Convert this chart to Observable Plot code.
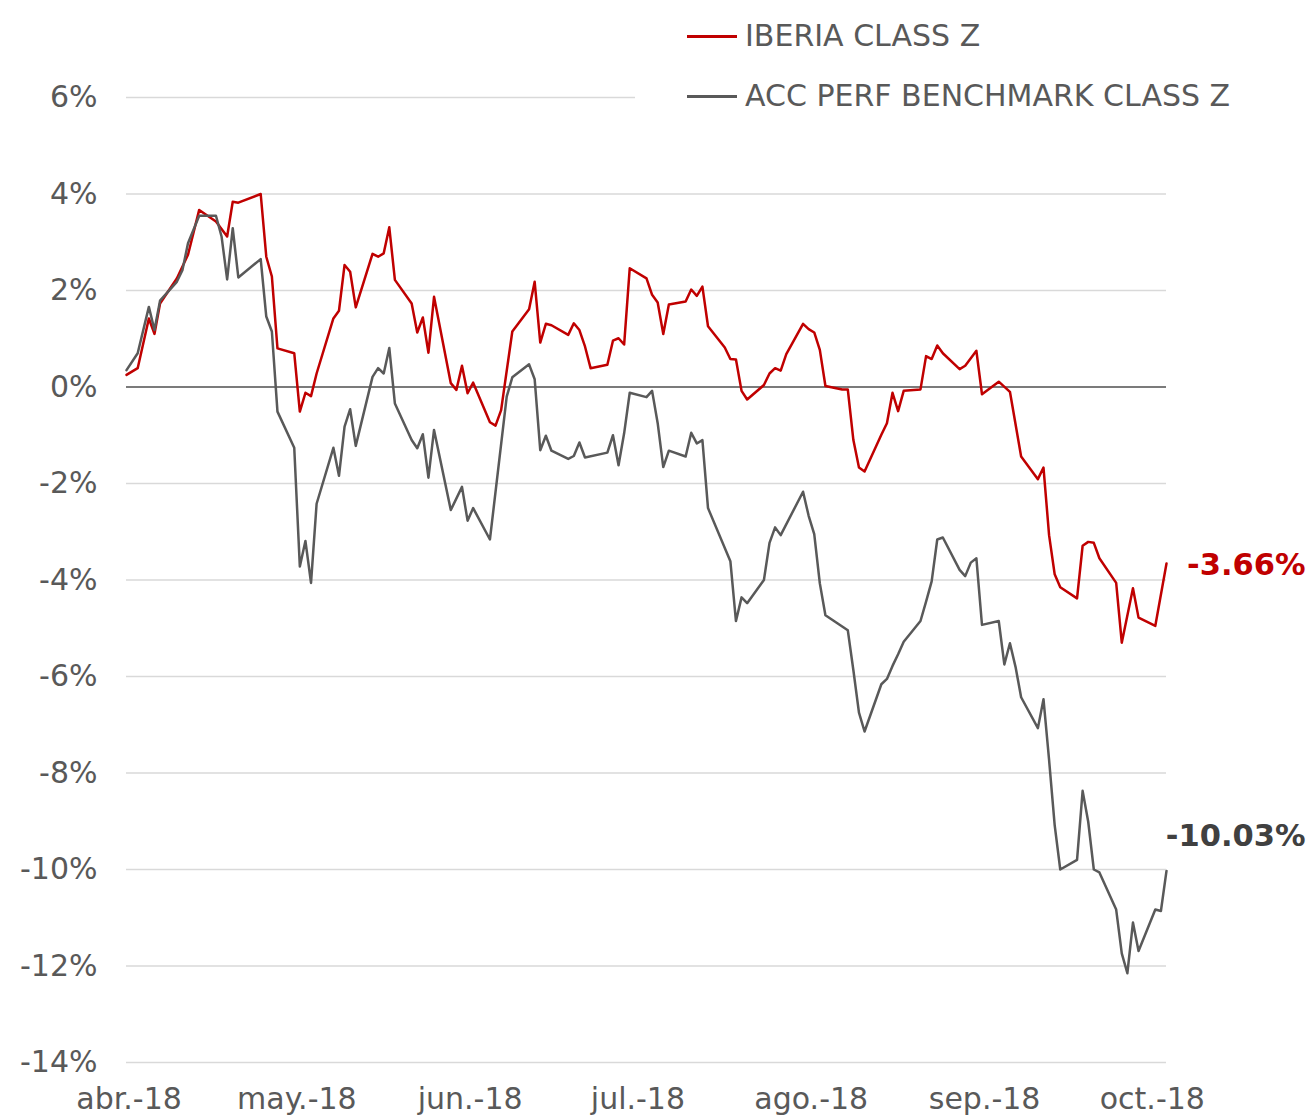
<!DOCTYPE html>
<html>
<head>
<meta charset="utf-8">
<script src="https://cdn.jsdelivr.net/npm/d3@7"></script>
<script src="https://cdn.jsdelivr.net/npm/@observablehq/plot@0.6"></script>
<style>
  body { margin: 0; background: white; }
  #wrap { position: relative; width: 1307px; height: 1116px; overflow: hidden; font-family: 'DejaVu Sans', Verdana, sans-serif; }
  #legend { position: absolute; left: 635px; top: 0; width: 672px; height: 122px; background: white; }
  .lg-line { position: absolute; left: 52px; width: 50px; height: 2.5px; }
  .lg-text { position: absolute; left: 110px; font-size: 30px; line-height: 36px; color: #595959; white-space: nowrap; }
</style>
</head>
<body>
<div id="wrap">
  <div id="chart"></div>
  <div id="legend"></div>
</div>
<script>
const seriesNames = ["IBERIA CLASS Z", "ACC PERF BENCHMARK CLASS Z"];
const seriesColors = ["#C00000", "#595959"];
const labelColors = ["#C00000", "#404040"];

const ibDates = ["2018-03-31","2018-04-02","2018-04-04","2018-04-05","2018-04-06","2018-04-09","2018-04-11","2018-04-13","2018-04-16","2018-04-18","2018-04-19","2018-04-20","2018-04-24","2018-04-25","2018-04-26","2018-04-27","2018-04-30",
"2018-05-01","2018-05-02","2018-05-03","2018-05-04","2018-05-07","2018-05-08","2018-05-09","2018-05-10","2018-05-11","2018-05-14","2018-05-15","2018-05-16","2018-05-17","2018-05-18","2018-05-21","2018-05-22","2018-05-23","2018-05-24","2018-05-25","2018-05-28","2018-05-29","2018-05-30","2018-05-31",
"2018-06-01","2018-06-04","2018-06-05","2018-06-06","2018-06-08","2018-06-11","2018-06-12","2018-06-13","2018-06-14","2018-06-15","2018-06-18","2018-06-19","2018-06-20","2018-06-21","2018-06-22","2018-06-25","2018-06-26","2018-06-27","2018-06-28","2018-06-29",
"2018-07-02","2018-07-03","2018-07-04","2018-07-05","2018-07-06","2018-07-09","2018-07-10","2018-07-11","2018-07-12","2018-07-13","2018-07-16","2018-07-17","2018-07-18","2018-07-19","2018-07-20","2018-07-23","2018-07-24","2018-07-25","2018-07-26","2018-07-27","2018-07-30","2018-07-31",
"2018-08-01","2018-08-02","2018-08-03","2018-08-06","2018-08-07","2018-08-08","2018-08-09","2018-08-10","2018-08-13","2018-08-14","2018-08-15","2018-08-16","2018-08-17","2018-08-20","2018-08-21","2018-08-22","2018-08-23","2018-08-24","2018-08-27","2018-08-28","2018-08-30","2018-08-31",
"2018-09-03","2018-09-05","2018-09-07","2018-09-10","2018-09-11","2018-09-12","2018-09-13","2018-09-14","2018-09-17","2018-09-18","2018-09-19","2018-09-20","2018-09-21","2018-09-24","2018-09-25","2018-09-27","2018-09-28","2018-10-01","2018-10-03"];
const ibValues = [0.25,0.39,1.42,1.10,1.73,2.25,2.74,3.67,3.43,3.12,3.84,3.82,4.00,2.70,2.29,0.80,0.70,
-0.51,-0.12,-0.19,0.28,1.42,1.58,2.53,2.39,1.65,2.76,2.70,2.77,3.31,2.22,1.73,1.13,1.44,0.71,1.87,0.08,-0.06,0.44,-0.13,
0.09,-0.73,-0.80,-0.48,1.15,1.61,2.18,0.92,1.31,1.28,1.08,1.32,1.18,0.84,0.39,0.46,0.96,1.01,0.88,2.46,
2.25,1.91,1.75,1.10,1.71,1.77,2.02,1.89,2.08,1.26,0.82,0.58,0.57,-0.08,-0.26,0.04,0.28,0.39,0.34,0.68,1.31,1.20,
1.13,0.77,0.02,-0.05,-0.05,-1.10,-1.67,-1.75,-0.99,-0.75,-0.12,-0.50,-0.08,-0.05,0.64,0.58,0.86,0.70,0.37,0.44,0.75,-0.15,
0.11,-0.10,-1.44,-1.91,-1.67,-3.07,-3.88,-4.15,-4.38,-3.29,-3.21,-3.23,-3.55,-4.06,-5.30,-4.17,-4.78,-4.95,-3.66];

const bmDates = ["2018-03-31","2018-04-02","2018-04-04","2018-04-05","2018-04-06","2018-04-09","2018-04-10","2018-04-11","2018-04-13","2018-04-16","2018-04-17","2018-04-18","2018-04-19","2018-04-20","2018-04-24","2018-04-25","2018-04-26","2018-04-27","2018-04-30",
"2018-05-01","2018-05-02","2018-05-03","2018-05-04","2018-05-07","2018-05-08","2018-05-09","2018-05-10","2018-05-11","2018-05-14","2018-05-15","2018-05-16","2018-05-17","2018-05-18","2018-05-21","2018-05-22","2018-05-23","2018-05-24","2018-05-25","2018-05-28","2018-05-30","2018-05-31",
"2018-06-01","2018-06-04","2018-06-07","2018-06-08","2018-06-11","2018-06-12","2018-06-13","2018-06-14","2018-06-15","2018-06-18","2018-06-19","2018-06-20","2018-06-21","2018-06-25","2018-06-26","2018-06-27","2018-06-28","2018-06-29",
"2018-07-02","2018-07-03","2018-07-04","2018-07-05","2018-07-06","2018-07-09","2018-07-10","2018-07-11","2018-07-12","2018-07-13","2018-07-17","2018-07-18","2018-07-19","2018-07-20","2018-07-23","2018-07-24","2018-07-25","2018-07-26","2018-07-30","2018-07-31",
"2018-08-01","2018-08-02","2018-08-03","2018-08-07","2018-08-08","2018-08-09","2018-08-10","2018-08-13","2018-08-14","2018-08-15","2018-08-16","2018-08-17","2018-08-20","2018-08-21","2018-08-22","2018-08-23","2018-08-24","2018-08-27","2018-08-28","2018-08-29","2018-08-30","2018-08-31",
"2018-09-03","2018-09-04","2018-09-05","2018-09-06","2018-09-07","2018-09-10","2018-09-11","2018-09-12","2018-09-13","2018-09-14","2018-09-17","2018-09-18","2018-09-19","2018-09-20","2018-09-21","2018-09-24","2018-09-25","2018-09-26","2018-09-27","2018-09-28","2018-10-01","2018-10-02","2018-10-03"];
const bmValues = [0.35,0.70,1.66,1.18,1.79,2.18,2.42,2.98,3.55,3.55,3.12,2.23,3.29,2.27,2.65,1.46,1.15,-0.51,-1.26,
-3.72,-3.19,-4.06,-2.42,-1.26,-1.84,-0.82,-0.46,-1.22,0.21,0.39,0.28,0.81,-0.34,-1.10,-1.27,-0.98,-1.88,-0.89,-2.55,-2.07,-2.77,
-2.51,-3.16,-0.20,0.20,0.47,0.16,-1.31,-1.01,-1.32,-1.49,-1.43,-1.15,-1.46,-1.36,-1.00,-1.62,-0.96,-0.12,
-0.21,-0.08,-0.75,-1.66,-1.32,-1.44,-0.95,-1.17,-1.10,-2.51,-3.61,-4.85,-4.36,-4.48,-4.00,-3.23,-2.91,-3.07,-2.17,-2.67,
-3.05,-4.07,-4.73,-5.04,-5.87,-6.75,-7.14,-6.16,-6.05,-5.78,-5.54,-5.28,-4.85,-4.45,-4.03,-3.16,-3.12,-3.79,-3.92,-3.64,-3.55,-4.93,
-4.85,-5.75,-5.31,-5.80,-6.43,-7.07,-6.47,-7.73,-9.08,-10.00,-9.80,-8.37,-9.01,-10.00,-10.06,-10.83,-11.74,-12.15,-11.10,-11.69,-10.83,-10.86,-10.03];

const monthTicks = ["2018-04-01","2018-05-01","2018-06-01","2018-07-01","2018-08-01","2018-09-01","2018-10-01"];
const monthLabels = ["abr.-18","may.-18","jun.-18","jul.-18","ago.-18","sep.-18","oct.-18"];
const yTicks = [-14,-12,-10,-8,-6,-4,-2,0,2,4,6];

const ib = ibDates.map((d, i) => ({date: new Date(d), v: ibValues[i]}));
const bm = bmDates.map((d, i) => ({date: new Date(d), v: bmValues[i]}));
const ends = [ib[ib.length - 1], bm[bm.length - 1]].map((p, i) => ({...p, label: p.v.toFixed(2) + "%", s: i}));
const tickDates = monthTicks.map(d => new Date(d));

const chart = Plot.plot({
  width: 1307,
  height: 1116,
  marginLeft: 126,
  marginRight: 141,
  marginTop: 97,
  marginBottom: 54,
  style: {fontFamily: "'DejaVu Sans', Verdana, sans-serif", fontSize: "30px", color: "#595959", background: "white", overflow: "visible"},
  x: {type: "utc", domain: [new Date("2018-03-31"), new Date("2018-10-03")]},
  y: {domain: [-14, 6]},
  marks: [
    Plot.ruleY(yTicks, {stroke: "#D9D9D9", strokeWidth: 1.5}),
    Plot.ruleY([0], {stroke: "#595959", strokeWidth: 1.5}),
    Plot.axisY({ticks: yTicks, tickSize: 0, tickPadding: 29, tickFormat: d => d + "%", label: null, fontSize: 30}),
    Plot.axisX({ticks: tickDates, tickSize: 0, tickPadding: 25, dx: -3, label: null, fontSize: 30,
      tickFormat: d => monthLabels[tickDates.findIndex(t => +t === +d)]}),
    Plot.line(ib, {x: "date", y: "v", stroke: seriesColors[0], strokeWidth: 2.5}),
    Plot.line(bm, {x: "date", y: "v", stroke: seriesColors[1], strokeWidth: 2.5}),
    Plot.text(ends.filter(e => e.s === 0), {x: "date", y: "v", text: "label", textAnchor: "end", dx: 139, dy: 2, fill: labelColors[0], fontWeight: "bold", fontSize: 30.5}),
    Plot.text(ends.filter(e => e.s === 1), {x: "date", y: "v", text: "label", textAnchor: "end", dx: 139, dy: -35, fill: labelColors[1], fontWeight: "bold", fontSize: 30.5})
  ]
});
document.getElementById("chart").appendChild(chart);

const legend = document.getElementById("legend");
seriesNames.forEach((name, i) => {
  const line = document.createElement("div");
  line.className = "lg-line";
  line.style.background = seriesColors[i];
  line.style.top = (35 + i * 60) + "px";
  legend.appendChild(line);
  const t = document.createElement("div");
  t.className = "lg-text";
  t.style.top = (18 + i * 60) + "px";
  t.textContent = name;
  legend.appendChild(t);
});
</script>
</body>
</html>
